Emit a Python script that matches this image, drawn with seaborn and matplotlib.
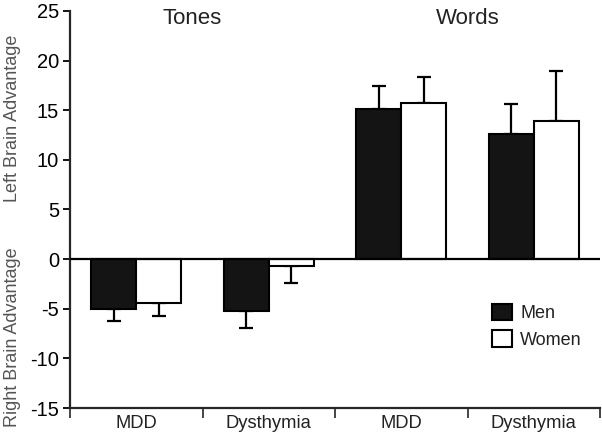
import numpy as np
import pandas as pd
import matplotlib
matplotlib.use("Agg")
import matplotlib.pyplot as plt
import seaborn as sns

# data
conditions = ["Tones MDD", "Tones Dysthymia", "Words MDD", "Words Dysthymia"]
tick_labels = ["MDD", "Dysthymia", "MDD", "Dysthymia"]
sexes = ["Men", "Women"]
men_values = [-5.0, -5.25, 15.1, 12.65]
women_values = [-4.4, -0.7, 15.75, 13.9]
men_errors = [1.2, 1.7, 2.3, 3.0]
women_errors = [1.3, 1.7, 2.55, 5.1]
task_titles = ["Tones", "Words"]

df = pd.DataFrame({
    "condition": conditions * 2,
    "sex": ["Men"] * 4 + ["Women"] * 4,
    "value": men_values + women_values,
    "error": men_errors + women_errors,
})

sns.set_style("ticks")
plt.rcParams["font.family"] = ["Liberation Sans", "DejaVu Sans"]
plt.rcParams["axes.unicode_minus"] = False

fig = plt.figure(figsize=(6.02, 4.34), dpi=100)
ax = fig.add_axes([0.1163, 0.0599, 0.8804, 0.9148])

sns.barplot(data=df, x="condition", y="value", hue="sex",
            order=conditions, hue_order=sexes,
            palette={"Men": "#141414", "Women": "white"},
            edgecolor="black", linewidth=1.5, width=0.68,
            errorbar=None, ax=ax, zorder=3)

# one-sided error bars, pointing away from zero
for sex, container in zip(sexes, ax.containers):
    sub = df[df["sex"] == sex].set_index("condition").loc[conditions]
    xs = [b.get_x() + b.get_width() / 2 for b in container]
    vals = sub["value"].to_numpy()
    errs = sub["error"].to_numpy()
    lower = np.where(vals < 0, errs, 0)
    upper = np.where(vals >= 0, errs, 0)
    ax.errorbar(xs, vals, yerr=[lower, upper], fmt="none", ecolor="black",
                elinewidth=1.6, capsize=4.7, capthick=1.6, zorder=2)

ax.axhline(0, color="black", lw=1.6, zorder=4)

ax.set_xlim(-0.5, 3.5)
ax.set_ylim(-15, 25)
ax.set_yticks(np.arange(-15, 26, 5))
ax.tick_params(axis="y", labelsize=14.5, length=5, width=1.3, colors="black", pad=3)
ax.set_xticks(range(4))
ax.set_xticklabels(tick_labels)
ax.tick_params(axis="x", which="major", length=0, labelsize=13.2, labelcolor="#222222", pad=5)
ax.set_xticks(np.arange(-0.5, 4, 1), minor=True)
ax.tick_params(axis="x", which="minor", length=7, width=1.2, direction="out")
ax.set_xlabel("")
ax.set_ylabel("")

for side in ["top", "right"]:
    ax.spines[side].set_visible(False)
for side in ["left", "bottom"]:
    ax.spines[side].set_linewidth(1.6)

# task titles
ax.text(0.42, 24.2, task_titles[0], ha="center", va="center", fontsize=16, color="#222222")
ax.text(2.5, 24.2, task_titles[1], ha="center", va="center", fontsize=16, color="#222222")

# split y labels
trans = matplotlib.transforms.blended_transform_factory(ax.transAxes, ax.transData)
ax.text(-0.109, 14.2, "Left Brain Advantage", rotation=90, ha="center", va="center",
        fontsize=13, color="#555555", transform=trans)
ax.text(-0.109, -7.9, "Right Brain Advantage", rotation=90, ha="center", va="center",
        fontsize=13, color="#555555", transform=trans, clip_on=False)

handles, labels = ax.get_legend_handles_labels()
ax.legend(handles, labels, loc="upper left", bbox_to_anchor=(0.797, 0.262),
          frameon=False, fontsize=13, handlelength=1.1, handleheight=1.0,
          handletextpad=0.45, labelspacing=0.45, borderpad=0, borderaxespad=0,
          labelcolor="#222222")

fig.savefig("out.png", dpi=100)
